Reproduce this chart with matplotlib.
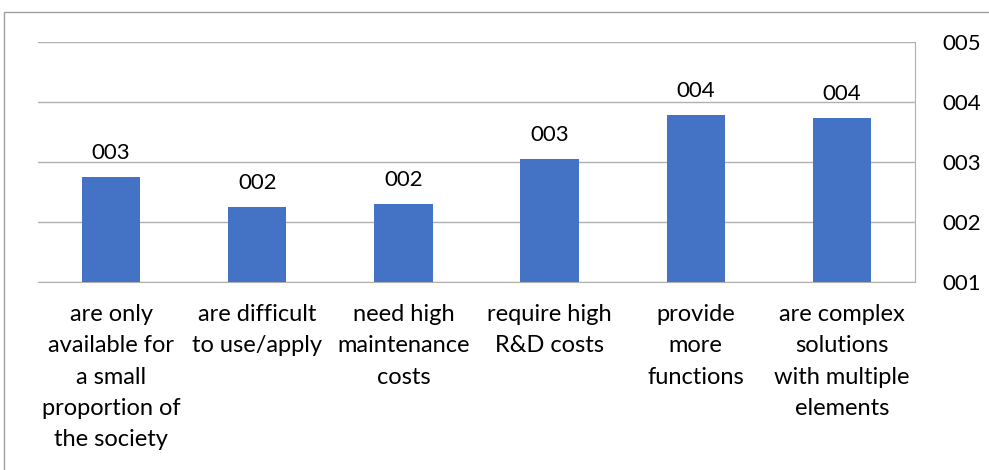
import matplotlib.pyplot as plt
from matplotlib.patches import Rectangle

categories = [
    "are only\navailable for\na small\nproportion of\nthe society",
    "are difficult\nto use/apply",
    "need high\nmaintenance\ncosts",
    "require high\nR&D costs",
    "provide\nmore\nfunctions",
    "are complex\nsolutions\nwith multiple\nelements",
]
values = [2.75, 2.25, 2.3, 3.05, 3.78, 3.73]
y_ticks = [1, 2, 3, 4, 5]

plt.rcParams['font.family'] = ['Lato', 'DejaVu Sans']

fig = plt.figure(figsize=(9.89, 4.70), dpi=100)
ax = fig.add_axes([38 / 989, 1 - 282 / 470, (915 - 38) / 989, 240 / 470])

x = range(len(categories))
bars = ax.bar(x, values, width=0.4, color='#4472C4', zorder=3)

for b, v in zip(bars, values):
    ax.text(b.get_x() + b.get_width() / 2, v + 0.24, f"{round(v):03d}",
            ha='center', va='bottom', fontsize=16, color='#000000')

ax.set_xlim(-0.5, len(categories) - 0.5)
ax.set_ylim(1, 5)
ax.set_xticks(list(x))
ax.set_xticklabels(categories, fontsize=17, linespacing=1.6)
ax.set_yticks(y_ticks)
ax.set_yticklabels([f"{t:03d}" for t in y_ticks], fontsize=16)
ax.yaxis.tick_right()
ax.tick_params(axis='y', length=0, pad=20)
ax.tick_params(axis='x', length=0, pad=16)

ax.grid(axis='y', color='#b0b0b0', linewidth=1, zorder=0)
for side in ['top', 'left']:
    ax.spines[side].set_visible(False)
ax.spines['right'].set_color('#b0b0b0')
ax.spines['bottom'].set_color('#b0b0b0')

# chart area border
fig.patches.append(Rectangle((4 / 989, -0.01), 1.0, 1 - 12 / 470 + 0.01,
                             transform=fig.transFigure, fill=False,
                             edgecolor='#a0a0a0', linewidth=1))

fig.savefig("out.png", dpi=100)
